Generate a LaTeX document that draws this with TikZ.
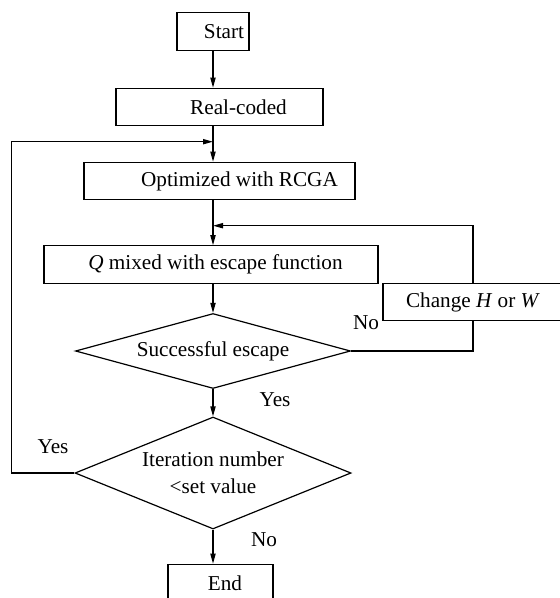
\documentclass[tikz,border=0pt]{standalone}
\usepackage{fontspec}
\setmainfont{Liberation Serif}
\usepackage{tikz}
\usetikzlibrary{
arrows.meta,
positioning,
shapes.geometric
}

\begin{document}
\begin{tikzpicture}[
x=0.5pt, y=-0.5pt,
font=\fontsize{10.6pt}{13.5pt}\selectfont,
box/.style={
rectangle,
draw=black,
line width=0.6pt,
inner sep=0pt,
minimum height=18.7pt,
align=center
},
decision/.style={
diamond,
draw=black,
line width=0.6pt,
inner sep=0pt,
aspect=3,
align=center
},
arrow/.style={-{Triangle[length=5pt,width=2.6pt]},line width=0.6pt},
line/.style={line width=0.6pt}
]

\useasboundingbox (0,0) rectangle (560,598);

\node[box, minimum width=36pt] (start) at (213,31.5) {\hspace*{11pt}Start};
\node[box, minimum width=103.5pt] (real) at (219.5,107) {\hspace*{19pt}Real-coded};
\node[box, minimum width=135.5pt] (opt) at (219.5,181) {\hspace*{20pt}Optimized with RCGA};
\node[box, minimum width=167pt] (qmix) at (211,264.5) {\hspace*{4.5pt}\textit{Q} mixed with escape function};
\node[box, minimum width=90pt] (change) at (473,302) {Change \textit{H} or \textit{W}};
\node[decision, minimum width=137.5pt, minimum height=37.5pt] (escape) at (213,351) {Successful escape};
\node[decision, minimum width=138pt, minimum height=56pt] (iter) at (213,473) {Iteration number\\<set value};
\node[box, minimum width=52.5pt] (finish) at (220.5,583) {\hspace*{4.5pt}End};

\node (yesa) at (275,400) {Yes};
\node (noa) at (366,323) {No};
\node (yesb) at (53,447) {Yes};
\node (nob) at (264,540) {No};

\coordinate (ltop) at (213,141.7);
\coordinate (lcorner) at (11.7,141.7);
\coordinate (ftop) at (213,225.7);

\draw[arrow] (start) -- (start |- real.north);
\draw[arrow] (start |- real.south) -- (start |- opt.north);
\draw[arrow] (start |- opt.south) -- (start |- qmix.north);
\draw[arrow] (start |- qmix.south) -- (escape.north);
\draw[arrow] (escape.south) -- (iter.north);
\draw[arrow] (iter.south) -- (start |- finish.north);
\draw[arrow] (iter.west) -| (lcorner) -- (ltop);
\draw[line] (escape.east) -| (change.south);
\draw[arrow] (change.north) |- (ftop);

\end{tikzpicture}
\end{document}
